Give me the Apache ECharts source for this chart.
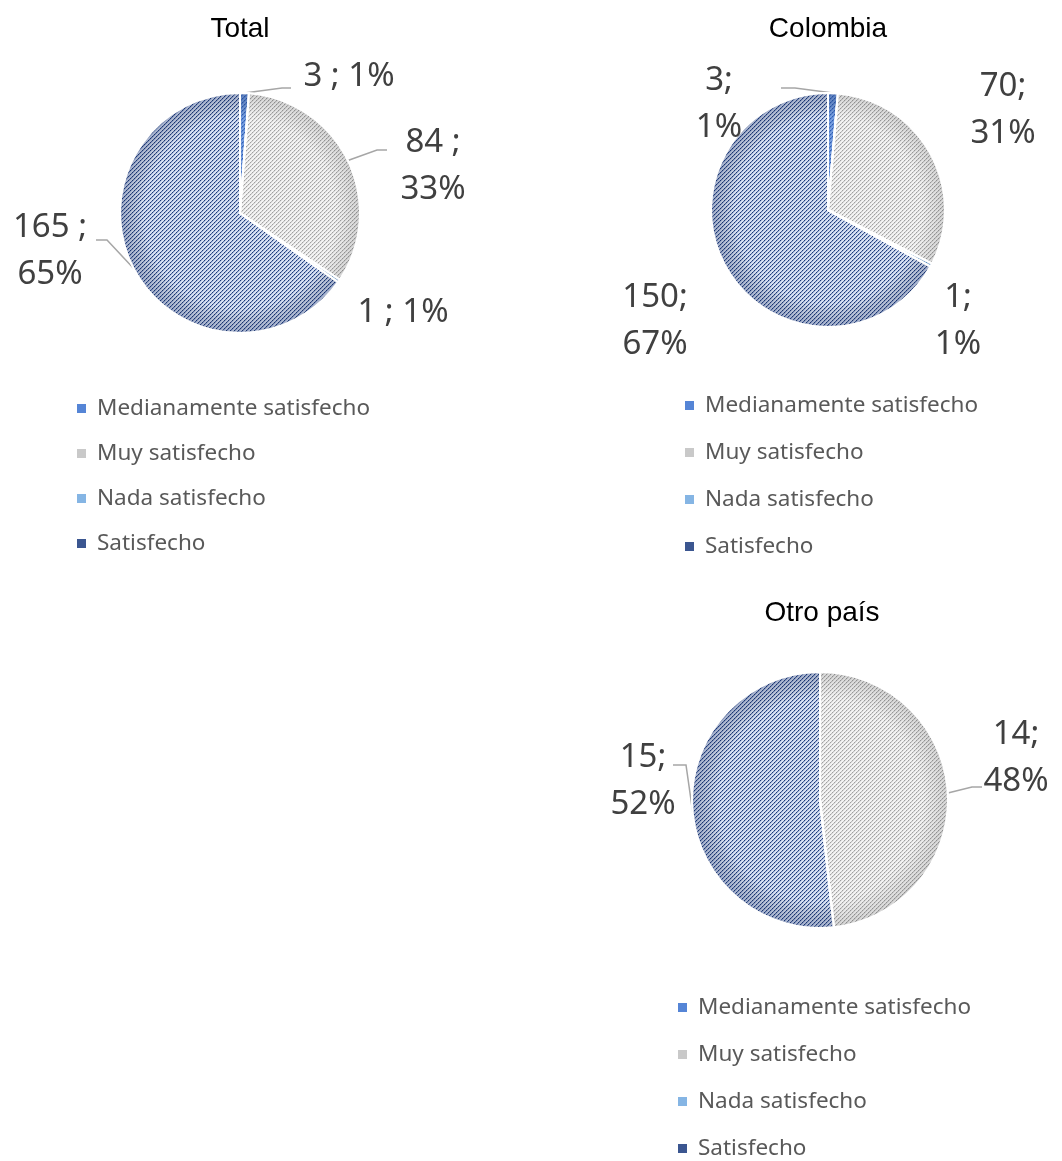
<!DOCTYPE html>
<html>
<head>
<meta charset="utf-8">
<script src="https://cdn.jsdelivr.net/npm/echarts@6/dist/echarts.min.js"></script>
<style>
  html, body { margin: 0; padding: 0; background: #ffffff; }
  #chart { width: 1062px; height: 1161px; }
</style>
</head>
<body>
<div id="chart"></div>
<script>
// ---- data ----
const categories = ['Medianamente satisfecho', 'Muy satisfecho', 'Nada satisfecho', 'Satisfecho'];
const titles = ['Total', 'Colombia', 'Otro país'];
const totalValues = [3, 84, 1, 165];
const totalPercents = [1, 33, 1, 65];
const colombiaValues = [3, 70, 1, 150];
const colombiaPercents = [1, 31, 1, 67];
const otroValues = [0, 14, 0, 15];
const otroPercents = [0, 48, 0, 52];

// ---- hatched fills (wide upward diagonal, dotted strokes) ----
function hatch(bg, fg, fg2, mid) {
  const c = document.createElement('canvas');
  c.width = 8; c.height = 8;
  const g = c.getContext('2d');
  g.fillStyle = bg; g.fillRect(0, 0, 8, 8);
  for (let y = 0; y < 8; y++) {
    for (let x = 0; x < 8; x++) {
      const k = (x + y) % 4;
      if (k === 0) { g.fillStyle = (x % 2 === 0) ? fg : fg2; g.fillRect(x, y, 1, 1); }
      else if (k === 1) { g.fillStyle = mid; g.fillRect(x, y, 1, 1); }
    }
  }
  return { image: c, repeat: 'repeat' };
}
const fills = [
  hatch('#7aa0e0', '#2e5cb0', '#4a78c8', '#5d88d4'),
  hatch('#f4f4f4', '#a0a0a0', '#bdbdbd', '#dedede'),
  hatch('#bcd6ef', '#5b9bd5', '#7aaee0', '#9cc3e8'),
  hatch('#d9e2f3', '#1f3b75', '#4b65a0', '#a7b8dc')
];
const legendColors = ['#5585d6', '#c9c9c9', '#85b5e4', '#3b5690'];
const rimColors = ['rgba(30,60,120,0.30)', 'rgba(0,0,0,0.13)', 'rgba(30,80,140,0.25)', 'rgba(25,45,100,0.28)'];

// ---- panel layout ----
// labelAt: label centre; leader: null or {angle (deg from 12 o'clock, optional), bends}
const panels = [
  {
    title: titles[0], values: totalValues, percents: totalPercents,
    center: [240, 213], radius: 120, titleAt: [240, 29], sep: ' ; ',
    wrap: [false, true, false, true],
    labelAt: [[349, 77], [433, 166], [403, 313], [50, 251]],
    leader: [
      { bends: [[282, 88], [291, 88]] },
      { bends: [[377, 150], [387, 150]] },
      null,
      { bends: [[107, 240], [96, 240]] }
    ],
    legend: { left: 77, top: 397, gap: 22 }
  },
  {
    title: titles[1], values: colombiaValues, percents: colombiaPercents,
    center: [828, 210], radius: 117, titleAt: [828, 29], sep: ';',
    wrap: [true, true, true, true],
    labelAt: [[719, 104], [1003, 110], [958, 321], [655, 321]],
    leader: [
      { bends: [[795, 88], [781, 88]] },
      null, null, null
    ],
    legend: { left: 685, top: 394, gap: 24 }
  },
  {
    title: titles[2], values: otroValues, percents: otroPercents,
    center: [820, 800], radius: 128, titleAt: [822, 613], sep: ';',
    wrap: [true, true, true, true],
    labelAt: [[0, 0], [1016, 758], [0, 0], [643, 781]],
    leader: [
      null,
      { bends: [[972, 787], [982, 787]] },
      null,
      { angle: 258, bends: [[686, 765], [673, 765]] }
    ],
    legend: { left: 678, top: 996, gap: 24 }
  }
];

const labelFont = { fontFamily: 'Noto Sans', fontSize: 33, color: '#404040', lineHeight: 47 };

const series = [];
const legends = [];
const graphics = [];

panels.forEach(function (p) {
  const labelText = function (i) {
    const v = p.values[i], pc = p.percents[i] + '%';
    return p.wrap[i] ? (v + p.sep.trimEnd() + '\n' + pc) : (v + p.sep + pc);
  };
  const data = categories.map(function (name, i) {
    const zero = p.values[i] === 0;
    return {
      name: name,
      value: p.values[i],
      itemStyle: { color: fills[i] },
      label: { show: !zero, formatter: labelText(i) },
      labelLine: { show: !zero && !!p.leader[i] }
    };
  });
  series.push({
    type: 'pie',
    name: p.title,
    center: p.center,
    radius: p.radius,
    startAngle: 90,
    clockwise: true,
    avoidLabelOverlap: false,
    animation: false,
    itemStyle: { borderColor: '#ffffff', borderWidth: 2 },
    label: Object.assign({ position: 'outside' }, labelFont),
    labelLine: { length: 12, length2: 10, lineStyle: { color: '#a6a6a6', width: 1.5 } },
    labelLayout: function (params) {
      const i = params.dataIndex;
      const at = p.labelAt[i];
      const out = { x: at[0], y: at[1], align: 'center', verticalAlign: 'middle' };
      const ld = p.leader[i];
      if (ld && params.labelLinePoints) {
        let start = params.labelLinePoints[0];
        if (ld.angle != null) {
          const a = ld.angle * Math.PI / 180;
          start = [p.center[0] + p.radius * Math.sin(a), p.center[1] - p.radius * Math.cos(a)];
        }
        out.labelLinePoints = [start].concat(ld.bends);
      }
      return out;
    },
    emphasis: { disabled: true },
    data: data
  });
  // rim shading laid over the hatched slices
  series.push({
    type: 'pie',
    name: p.title + ' ',
    center: p.center,
    radius: p.radius,
    startAngle: 90,
    clockwise: true,
    silent: true,
    animation: false,
    label: { show: false },
    labelLine: { show: false },
    itemStyle: { borderColor: '#ffffff', borderWidth: 2 },
    emphasis: { disabled: true },
    data: categories.map(function (name, i) {
      return {
        name: name,
        value: p.values[i],
        itemStyle: {
          color: {
            type: 'radial', x: p.center[0], y: p.center[1], r: p.radius, global: true,
            colorStops: [
              { offset: 0, color: 'rgba(0,0,0,0)' },
              { offset: 0.8, color: 'rgba(0,0,0,0)' },
              { offset: 1, color: rimColors[i] }
            ]
          }
        }
      };
    })
  });
  legends.push({
    orient: 'vertical',
    left: p.legend.left,
    top: p.legend.top,
    height: 200,
    padding: 0,
    itemWidth: 9,
    itemHeight: 9,
    itemGap: p.legend.gap,
    icon: 'rect',
    selectedMode: false,
    textStyle: { fontFamily: 'Noto Sans', fontSize: 22.5, color: '#595959', padding: [0, 0, 0, 6] },
    data: categories.map(function (name, i) {
      return { name: name, itemStyle: { color: legendColors[i], borderWidth: 0 } };
    })
  });
  graphics.push({
    type: 'text',
    x: p.titleAt[0],
    y: p.titleAt[1],
    style: {
      text: p.title,
      align: 'center',
      verticalAlign: 'middle',
      font: '28px "Liberation Sans", Arial, sans-serif',
      fill: '#000000'
    }
  });
});

const chart = echarts.init(document.getElementById('chart'), null, { renderer: 'canvas' });
chart.setOption({
  backgroundColor: '#ffffff',
  animation: false,
  legend: legends,
  graphic: graphics,
  series: series
});
</script>
</body>
</html>
